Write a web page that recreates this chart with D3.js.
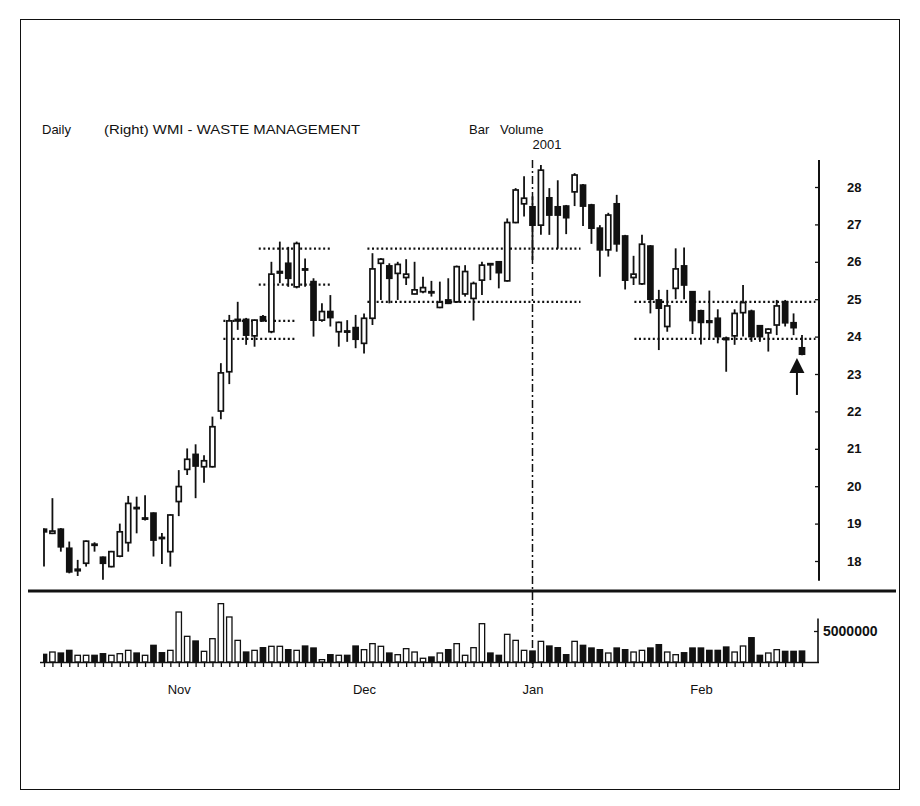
<!DOCTYPE html>
<html><head><meta charset="utf-8">
<script src="https://cdn.jsdelivr.net/npm/d3@7"></script>
<style>body{margin:0;background:#fff}svg{display:block}</style>
</head><body><svg id="c" width="920" height="806"></svg>
<script>
// ---- data (daily bars, index 0..90) ----
const opens  = [18.85,18.74,18.85,18.34,17.74,17.94,18.45,18.10,17.85,18.13,18.49,19.43,19.12,19.28,18.63,18.25,19.59,20.45,20.85,20.52,
                20.52,22.01,23.06,24.42,24.46,24.02,24.53,24.13,25.70,25.96,25.33,25.81,25.47,24.44,24.67,24.13,24.15,24.24,23.82,24.49,
                25.96,25.89,25.69,25.58,25.14,25.20,25.20,24.78,24.98,24.93,25.14,25.02,25.51,25.95,26.00,25.49,27.05,27.55,27.47,26.98,
                27.71,27.47,27.49,27.87,28.05,27.52,26.90,26.32,27.55,26.69,25.58,25.41,26.42,24.98,24.27,25.29,25.89,25.20,24.69,24.42,
                24.49,23.96,24.02,24.64,24.68,24.29,24.10,24.31,24.93,24.37,23.70];
const highs  = [18.87,19.68,18.88,18.52,18.03,18.55,18.50,18.12,18.27,19.00,19.74,19.72,19.76,19.30,18.75,19.25,20.43,21.01,21.12,20.83,
                21.86,23.29,24.58,24.93,24.50,24.46,24.58,26.00,26.54,26.40,26.54,26.09,25.56,24.89,25.11,24.40,24.44,24.58,24.62,26.23,
                26.10,25.96,26.00,26.07,26.00,25.60,25.49,25.47,25.56,25.90,25.91,25.47,26.00,25.95,26.02,27.16,27.97,28.29,27.75,28.59,
                27.97,28.18,27.52,28.37,28.08,27.55,26.98,27.31,27.79,26.72,26.16,26.72,26.45,25.25,25.25,26.36,26.38,25.22,24.72,25.23,
                24.73,24.00,24.73,25.38,24.72,24.30,24.22,24.98,24.98,24.62,24.04];
const lows   = [17.85,18.72,18.25,17.67,17.60,17.85,18.25,17.50,17.83,18.10,18.25,18.74,19.08,18.12,17.92,17.85,19.20,20.30,19.68,20.09,
                20.50,21.79,22.73,24.18,23.78,23.73,24.40,24.09,25.43,25.33,25.29,25.33,24.00,24.40,24.27,23.73,23.86,23.69,23.55,24.31,
                24.98,24.89,24.98,25.38,25.13,25.16,25.07,24.76,24.87,24.90,25.07,24.43,25.11,25.51,25.29,25.47,27.03,27.21,26.05,26.72,
                26.72,26.35,26.74,27.49,26.96,26.48,25.60,26.14,26.27,25.26,25.38,25.38,24.62,23.64,24.13,25.00,25.00,24.07,23.79,23.91,
                23.82,23.06,23.78,24.00,23.86,23.86,23.60,24.04,24.27,24.04,23.50];
const closes = [18.78,18.80,18.38,17.71,17.78,18.53,18.42,17.94,18.25,18.78,19.54,19.40,19.15,18.56,18.60,19.23,19.99,20.72,20.54,20.68,
                21.59,23.03,24.42,24.46,24.04,24.44,24.43,25.67,25.74,25.56,26.49,25.78,24.44,24.67,24.51,24.38,24.12,23.93,24.49,25.81,
                26.07,25.56,25.93,25.67,25.25,25.31,25.17,24.92,24.89,25.87,25.74,25.42,25.91,25.92,25.71,27.05,27.92,27.70,26.98,28.45,
                27.25,27.25,27.18,28.32,27.49,26.90,26.32,27.25,26.48,25.51,25.67,26.47,25.00,24.76,24.82,25.81,25.38,24.43,24.38,24.38,
                24.00,23.92,24.62,24.91,24.00,24.00,24.20,24.82,24.37,24.24,23.53];
const volumes = [1.24,1.61,1.45,1.88,1.08,1.08,1.08,1.34,1.08,1.34,1.88,1.45,1.08,2.69,1.50,1.88,8.06,4.14,3.39,1.72,
                 3.76,9.41,7.26,3.49,1.61,1.88,2.31,2.53,2.53,1.99,1.88,2.58,2.26,0.38,1.18,1.08,1.08,2.58,1.99,2.96,
                 2.53,1.45,1.18,2.15,1.61,0.60,0.81,1.45,1.99,2.96,1.08,2.31,6.18,1.45,1.08,4.46,3.49,1.88,1.77,3.33,
                 2.58,2.31,1.18,3.33,2.69,2.26,1.99,1.45,2.26,1.99,1.61,1.88,2.26,2.80,1.61,1.18,1.50,2.26,2.26,1.88,
                 1.88,2.42,1.61,2.58,3.92,1.08,1.45,1.99,1.72,1.72,1.77].map(v => v * 1e6);
const monthLabels = ["Nov", "Dec", "Jan", "Feb"];
const monthIndex  = [16, 38, 58, 78];
const priceTicks  = [18, 19, 20, 21, 22, 23, 24, 25, 26, 27, 28];
const volumeTicks = [5000000];
// support / resistance dotted lines (start index, end index, price)
const srStart = [25.5, 25.5, 21.3, 21.3, 38.4, 38.4, 70.1, 70.1];
const srEnd   = [34.2, 34.2, 29.8, 29.8, 63.7, 63.7, 91.6, 91.6];
const srPrice = [26.35, 25.39, 24.42, 23.94, 26.35, 24.93, 24.93, 23.94];
const yearMarkIndex = 58, yearLabel = "2001";
const arrowIndex = 89.4, arrowTip = 23.43, arrowBase = 23.03, arrowTail = 22.44;

// ---- layout ----
const svg = d3.select("#c");
const n = closes.length;
const idx = d3.range(n);
const x = d3.scaleLinear().domain([0, n - 1]).range([44, 802]);
const y = d3.scaleLinear().domain([18, 28]).range([561, 187]);
const yv = d3.scaleLinear().domain([0, 5e6]).range([662, 631]);
const axisX = 819;
const font = "'Liberation Sans', Arial, sans-serif";
const narrow = "'Liberation Sans Narrow', 'Liberation Sans', Arial, sans-serif";

svg.append("rect").attr("width", 920).attr("height", 806).attr("fill", "#fff");
svg.append("rect").attr("x", 20.5).attr("y", 19.5).attr("width", 879).attr("height", 770)
  .attr("fill", "none").attr("stroke", "#111").attr("stroke-width", 1);

// titles
const title = svg.append("g").attr("font-family", font).attr("font-size", 13).attr("fill", "#111");
title.append("text").attr("x", 42).attr("y", 134).text("Daily");
title.append("text").attr("x", 104).attr("y", 134).attr("textLength", 256).attr("lengthAdjust", "spacingAndGlyphs").text("(Right) WMI - WASTE MANAGEMENT");
title.append("text").attr("x", 469).attr("y", 134).text("Bar");
title.append("text").attr("x", 500).attr("y", 134).text("Volume");
title.append("text").attr("x", x(yearMarkIndex)).attr("y", 149).text(yearLabel);

svg.append("clipPath").attr("id", "pc").append("rect")
  .attr("x", 43).attr("y", 150).attr("width", axisX - 43 - 2).attr("height", 530);

// dotted support / resistance lines
const plot = svg.append("g").attr("clip-path", "url(#pc)");
plot.selectAll("line.sr").data(srPrice).join("line")
  .attr("x1", (p, k) => x(srStart[k])).attr("x2", (p, k) => x(srEnd[k]))
  .attr("y1", p => y(p)).attr("y2", p => y(p))
  .attr("stroke", "#111").attr("stroke-width", 2.2).attr("stroke-dasharray", "2,2.6");

// year dash-dot marker
plot.append("line").attr("x1", x(yearMarkIndex)).attr("x2", x(yearMarkIndex))
  .attr("y1", 160).attr("y2", 668).attr("stroke", "#111").attr("stroke-width", 1.5)
  .attr("stroke-dasharray", "8,3,2,3");

// candles
const bw = 5;
plot.selectAll("line.wick").data(idx).join("line")
  .attr("x1", i => x(i)).attr("x2", i => x(i))
  .attr("y1", i => y(highs[i])).attr("y2", i => y(lows[i]))
  .attr("stroke", "#111").attr("stroke-width", 1.8);
plot.selectAll("rect.body").data(idx).join("rect")
  .attr("x", i => x(i) - bw / 2)
  .attr("y", i => y(Math.max(opens[i], closes[i])))
  .attr("width", bw)
  .attr("height", i => Math.max(1, Math.abs(y(opens[i]) - y(closes[i]))))
  .attr("fill", i => closes[i] >= opens[i] ? "#fff" : "#111")
  .attr("stroke", "#111").attr("stroke-width", 1.7);

// volume bars
const vw = 5.4;
plot.selectAll("rect.vol").data(idx).join("rect")
  .attr("x", i => x(i) - vw / 2)
  .attr("y", i => yv(volumes[i]))
  .attr("width", vw)
  .attr("height", i => yv(0) - yv(volumes[i]))
  .attr("fill", i => closes[i] >= opens[i] ? "#fff" : "#111")
  .attr("stroke", "#111").attr("stroke-width", 1.3);

// arrow
svg.append("line").attr("x1", x(arrowIndex)).attr("x2", x(arrowIndex))
  .attr("y1", y(arrowBase)).attr("y2", y(arrowTail)).attr("stroke", "#111").attr("stroke-width", 2);
svg.append("path")
  .attr("d", `M${x(arrowIndex)},${y(arrowTip)} L${x(arrowIndex) + 7.5},${y(arrowBase)} L${x(arrowIndex) - 7.5},${y(arrowBase)} Z`)
  .attr("fill", "#111");

// separator
svg.append("line").attr("x1", 28).attr("x2", 896).attr("y1", 591).attr("y2", 591)
  .attr("stroke", "#111").attr("stroke-width", 3);

// price axis
const pAxis = svg.append("g").attr("transform", `translate(${axisX},0)`)
  .call(d3.axisRight(y).tickValues(priceTicks).tickSizeInner(-4).tickSizeOuter(0).tickPadding(28).tickFormat(d3.format("d")));
pAxis.select(".domain").remove();
pAxis.append("line").attr("y1", y(28.72)).attr("y2", y(17.47)).attr("stroke", "#111").attr("stroke-width", 2);
pAxis.selectAll(".tick line").attr("stroke", "#111").attr("stroke-width", 1.3);
pAxis.selectAll("text").attr("font-family", narrow).attr("font-weight", "bold").attr("font-size", 13).attr("fill", "#111");

// volume axis
const vAxis = svg.append("g").attr("transform", `translate(${axisX - 1},0)`)
  .call(d3.axisRight(yv).tickValues(volumeTicks).tickSizeInner(-4).tickSizeOuter(0).tickPadding(5).tickFormat(d3.format("d")));
vAxis.select(".domain").remove();
vAxis.append("line").attr("y1", yv(7e6)).attr("y2", yv(0)).attr("stroke", "#111").attr("stroke-width", 1.6);
vAxis.selectAll(".tick line").attr("stroke", "#111").attr("stroke-width", 1.3);
vAxis.selectAll("text").attr("font-family", narrow).attr("font-weight", "bold").attr("font-size", 14).attr("fill", "#111");

// time axis (bar ticks)
const tAxis = svg.append("g").attr("transform", `translate(0,${yv(0)})`)
  .call(d3.axisBottom(x).tickValues(idx).tickSizeInner(5).tickSizeOuter(0).tickFormat(""));
tAxis.select(".domain").attr("d", `M${x(0) - 4},0.5H${axisX}`).attr("stroke", "#111").attr("stroke-width", 1.6);
tAxis.selectAll(".tick line").attr("stroke", "#111").attr("stroke-width", 1.3);

// month labels
const mAxis = svg.append("g").attr("transform", `translate(0,${yv(0)})`)
  .call(d3.axisBottom(x).tickValues(monthIndex).tickSize(0).tickPadding(23).tickFormat((d, k) => monthLabels[k]));
mAxis.select(".domain").remove();
mAxis.selectAll("text").attr("font-family", font).attr("font-size", 13).attr("fill", "#111");
</script></body></html>
